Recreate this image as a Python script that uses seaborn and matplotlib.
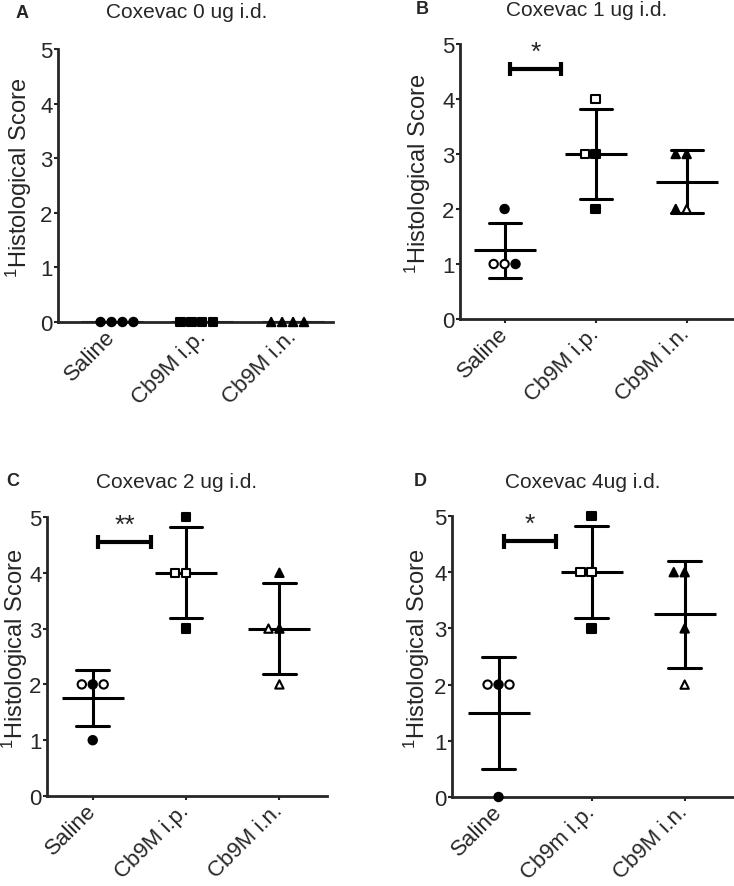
import numpy as np
import pandas as pd
import seaborn as sns
import matplotlib.pyplot as plt
from matplotlib.markers import MarkerStyle

# Categories and marker shapes (GraphPad style symbols)
groups = ['Saline', 'Cb9M i.p.', 'Cb9M i.n.']
shapes = ['o', 's', '^']

panel_letters = ['A', 'B', 'C', 'D']
panel_titles = ['Coxevac 0 ug i.d.', 'Coxevac 1 ug i.d.',
                'Coxevac 2 ug i.d.', 'Coxevac 4ug i.d.']
tick_labels = [['Saline', 'Cb9M i.p.', 'Cb9M i.n.'],
               ['Saline', 'Cb9M i.p.', 'Cb9M i.n.'],
               ['Saline', 'Cb9M i.p.', 'Cb9M i.n.'],
               ['Saline', 'Cb9m i.p.', 'Cb9M i.n.']]

# Histological scores per animal (Saline, i.p., i.n.), open/filled symbols
scores_a = [[0, 0, 0, 0], [0, 0, 0, 0], [0, 0, 0, 0]]
fills_a = [['filled'] * 4, ['filled'] * 4, ['filled'] * 4]

scores_b = [[2, 1, 1, 1], [4, 3, 3, 2], [3, 3, 2, 2]]
fills_b = [['filled', 'open', 'open', 'filled'],
           ['open', 'filled', 'open', 'filled'],
           ['filled', 'filled', 'filled', 'open']]

scores_c = [[2, 2, 2, 1], [5, 4, 4, 3], [4, 3, 3, 2]]
fills_c = [['filled', 'open', 'open', 'filled'],
           ['filled', 'open', 'open', 'filled'],
           ['filled', 'filled', 'open', 'open']]

scores_d = [[2, 2, 2, 0], [5, 4, 4, 3], [4, 4, 3, 2]]
fills_d = [['filled', 'open', 'open', 'filled'],
           ['filled', 'open', 'open', 'filled'],
           ['filled', 'filled', 'filled', 'open']]

all_scores = [scores_a, scores_b, scores_c, scores_d]
all_fills = [fills_a, fills_b, fills_c, fills_d]

# Saline vs i.p. significance
sig_labels = [None, '*', '**', '*']

sns.set_style('ticks')
plt.rcParams['font.family'] = ['Liberation Sans', 'DejaVu Sans']
plt.rcParams['mathtext.fontset'] = 'custom'
plt.rcParams['mathtext.rm'] = 'Liberation Sans'
plt.rcParams['mathtext.default'] = 'regular'

W, H = 734, 887
fig = plt.figure(figsize=(W / 100, H / 100), dpi=100)

# axes boxes in pixels: left, right, top (y=5), bottom (y=0)
boxes = [(58, 333, 50, 323), (460, 734, 45, 320),
         (47, 327, 518, 797), (452, 734, 517, 798)]
xlims = [(-0.59, 2.44), (-0.49, 2.52), (-0.49, 2.51), (-0.5, 2.53)]
ylabel_dx = [39, 42, 32, 35]
title_pos = [(187, 13), (587, 10), (177, 482), (583, 482)]
letter_pos = [(22, 13), (422, 9), (13, 482), (420, 482)]

for i in range(4):
    l, r, t, b = boxes[i]
    ax = fig.add_axes([l / W, 1 - b / H, (r - l) / W, (b - t) / H])

    df = pd.DataFrame({
        'group': np.repeat(groups, 4),
        'score': np.concatenate(all_scores[i]),
        'fill': np.concatenate(all_fills[i]),
    })

    sns.swarmplot(data=df, x='group', y='score', hue='fill', order=groups,
                  hue_order=['filled', 'open'],
                  palette={'filled': 'black', 'open': 'white'},
                  size=6, edgecolor='black', linewidth=1.5, legend=False,
                  clip_on=False, ax=ax)
    # one collection per group -> give each its own symbol
    for coll, shape in zip(ax.collections, shapes):
        m = MarkerStyle(shape)
        coll.set_paths([m.get_path().transformed(m.get_transform())])

    # mean +/- SD
    sns.pointplot(data=df, x='group', y='score', order=groups, errorbar='sd',
                  capsize=0.35, color='black', marker='_', markersize=45,
                  markeredgewidth=2.2, linestyle='none',
                  err_kws={'linewidth': 2.2}, ax=ax)

    # significance bracket
    if sig_labels[i]:
        ax.plot([0.06, 0.62], [4.55, 4.55], color='black', lw=3,
                solid_capstyle='butt')
        ax.vlines([0.06, 0.62], 4.42, 4.68, color='black', lw=3)
        ax.text(0.34, 4.64, sig_labels[i], ha='center', va='bottom',
                fontsize=19)

    ax.set_xlim(xlims[i])
    ax.set_ylim(0, 5)
    ax.set_yticks(range(6))
    ax.set_xticks(range(3))
    ax.set_xticklabels(tick_labels[i], rotation=45, ha='right', va='center',
                       rotation_mode='anchor', fontsize=16)
    ax.set_xlabel('')
    ax.set_ylabel(r'$^1$Histological Score', fontsize=17)
    ax.yaxis.set_label_coords(-ylabel_dx[i] / (r - l), 0.53)
    ax.yaxis.label.set_verticalalignment('center')
    sns.despine(ax=ax)
    for s in ['left', 'bottom']:
        ax.spines[s].set_linewidth(2)
    ax.tick_params(axis='both', width=1.5, length=3, pad=1)
    ax.tick_params(axis='y', labelsize=16)
    ax.tick_params(axis='x', pad=5)

    fig.text(title_pos[i][0] / W, 1 - title_pos[i][1] / H, panel_titles[i],
             ha='center', va='center', fontsize=15)
    fig.text(letter_pos[i][0] / W, 1 - letter_pos[i][1] / H, panel_letters[i],
             ha='center', va='center', fontsize=13, fontweight='bold')

fig.savefig('out.png', dpi=100)
